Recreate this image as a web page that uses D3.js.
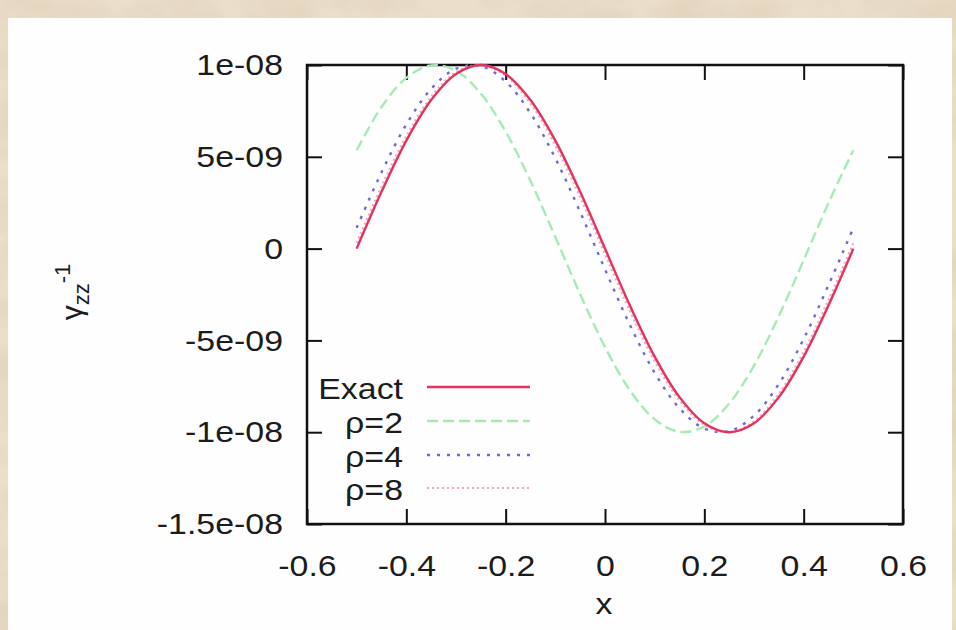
<!DOCTYPE html>
<html>
<head>
<meta charset="utf-8">
<script src="https://cdn.jsdelivr.net/npm/d3@7"></script>
<style>
    body { margin: 0; background: #e9dcc6; }
    svg { display: block; }
</style>
</head>
<body>
<div id="chart"></div>
<script>

// --- data --------------------------------------------------------------------
const xValues = [-0.5, -0.45, -0.4, -0.35, -0.3, -0.25, -0.2, -0.15, -0.1, -0.05, 0,
                 0.05, 0.1, 0.15, 0.2, 0.25, 0.3, 0.35, 0.4, 0.45, 0.5];

const exactValues = [0, 3.09e-9, 5.88e-9, 8.09e-9, 9.51e-9, 1.0e-8, 9.51e-9, 8.09e-9, 5.88e-9, 3.09e-9, 0,
                     -3.09e-9, -5.88e-9, -8.09e-9, -9.51e-9, -1.0e-8, -9.51e-9, -8.09e-9, -5.88e-9, -3.09e-9, 0];

const rho2Values = [5.36e-9, 7.71e-9, 9.30e-9, 9.98e-9, 9.69e-9, 8.44e-9, 6.37e-9, 3.68e-9, 0.63e-9, -2.49e-9, -5.36e-9,
                    -7.71e-9, -9.30e-9, -9.98e-9, -9.69e-9, -8.44e-9, -6.37e-9, -3.68e-9, -0.63e-9, 2.49e-9, 5.36e-9];

const rho4Values = [1.13e-9, 4.15e-9, 6.76e-9, 8.70e-9, 9.80e-9, 9.94e-9, 9.10e-9, 7.37e-9, 4.92e-9, 1.99e-9, -1.13e-9,
                    -4.15e-9, -6.76e-9, -8.70e-9, -9.80e-9, -9.94e-9, -9.10e-9, -7.37e-9, -4.92e-9, -1.99e-9, 1.13e-9];

const rho8Values = [0.31e-9, 3.39e-9, 6.13e-9, 8.27e-9, 9.60e-9, 1.0e-8, 9.41e-9, 7.90e-9, 5.62e-9, 2.79e-9, -0.31e-9,
                    -3.39e-9, -6.13e-9, -8.27e-9, -9.60e-9, -1.0e-8, -9.41e-9, -7.90e-9, -5.62e-9, -2.79e-9, 0.31e-9];

const seriesNames = ['Exact', 'ρ=2', 'ρ=4', 'ρ=8'];

const xTicks = [-0.6, -0.4, -0.2, 0, 0.2, 0.4, 0.6];
const xTickLabels = ['-0.6', '-0.4', '-0.2', '0', '0.2', '0.4', '0.6'];
const yTicks = [-1.5e-8, -1e-8, -5e-9, 0, 5e-9, 1e-8];
const yTickLabels = ['-1.5e-08', '-1e-08', '-5e-09', '0', '5e-09', '1e-08'];

// --- chart -------------------------------------------------------------------
const width = 956;
const height = 630;
const plot = {left: 307, right: 903, top: 65, bottom: 524};
const textStretch = 1.13;   // the picture is a bit wider than tall
const fontStack = '"Liberation Sans", Arial, Helvetica, sans-serif';

const mySVG = d3.select('#chart')
    .append('svg')
        .attr('width', width)
        .attr('height', height);

// parchment backdrop
const defs = mySVG.append('defs');
const paper = defs.append('filter')
    .attr('id', 'paper')
    .attr('x', 0).attr('y', 0).attr('width', '100%').attr('height', '100%');
paper.append('feTurbulence')
    .attr('type', 'fractalNoise')
    .attr('baseFrequency', '0.012 0.02')
    .attr('numOctaves', 4)
    .attr('seed', 7);
paper.append('feColorMatrix')
    .attr('type', 'matrix')
    .attr('values', '0 0 0 0 0.62  0 0 0 0 0.50  0 0 0 0 0.36  1.4 0 0 0 -0.55');

mySVG.append('rect')
    .attr('width', width).attr('height', height)
    .style('fill', '#ebdfca');
mySVG.append('rect')
    .attr('width', width).attr('height', height)
    .attr('filter', 'url(#paper)')
    .style('opacity', 0.55);

// white sheet
mySVG.append('rect')
    .attr('x', 8).attr('y', 18)
    .attr('width', width - 12).attr('height', height)
    .style('fill', '#fefefe');

const x = d3.scaleLinear()
    .domain([-0.6, 0.6])
    .range([plot.left, plot.right]);

const y = d3.scaleLinear()
    .domain([-1.5e-8, 1e-8])
    .range([plot.bottom, plot.top]);

// axes with inward ticks (gnuplot style)
function styleAxis(g) {
    g.select('.domain').remove();
    g.selectAll('.tick line')
        .style('stroke', '#111')
        .style('stroke-width', 2);
    g.selectAll('.tick text')
        .style('font-family', fontStack)
        .style('font-size', '30px')
        .style('fill', '#1c1c1c');
}

mySVG.append('g')
    .attr('transform', `translate(0,${plot.bottom})`)
    .call(d3.axisBottom(x)
        .tickValues(xTicks)
        .tickSize(-15)
        .tickPadding(31)
        .tickFormat((d, i) => xTickLabels[i]))
    .call(styleAxis)
    .call(g => g.selectAll('.tick text').attr('transform', `scale(${textStretch},1)`));

mySVG.append('g')
    .attr('transform', `translate(0,${plot.top})`)
    .call(d3.axisTop(x).tickValues(xTicks).tickSize(-15).tickFormat(''))
    .call(styleAxis);

mySVG.append('g')
    .attr('transform', `translate(${plot.left},0)`)
    .call(d3.axisLeft(y)
        .tickValues(yTicks)
        .tickSize(-15)
        .tickFormat((d, i) => yTickLabels[i]))
    .call(styleAxis)
    .call(g => g.selectAll('.tick text')
        .attr('x', -24 / textStretch)
        .attr('transform', `scale(${textStretch},1)`));

mySVG.append('g')
    .attr('transform', `translate(${plot.right},0)`)
    .call(d3.axisRight(y).tickValues(yTicks).tickSize(-15).tickFormat(''))
    .call(styleAxis);

// frame
mySVG.append('rect')
    .attr('x', plot.left).attr('y', plot.top)
    .attr('width', plot.right - plot.left)
    .attr('height', plot.bottom - plot.top)
    .style('fill', 'none')
    .style('stroke', '#111')
    .style('stroke-width', 2.5);

// --- curves ------------------------------------------------------------------
const series = [
    {name: seriesNames[0], values: exactValues, color: '#e2335f', dash: null,  w: 2.4},
    {name: seriesNames[1], values: rho2Values,  color: '#a8eab6', dash: '11,5', w: 2.4},
    {name: seriesNames[2], values: rho4Values,  color: '#6b6bd6', dash: '3,7',  w: 2.4},
    {name: seriesNames[3], values: rho8Values,  color: '#f3a6c0', dash: '2,3',  w: 2.2}
];

const line = d3.line()
    .x((d, i) => x(xValues[i]))
    .y(d => y(d))
    .curve(d3.curveCatmullRom);

// draw back to front so the exact solution stays on top
[1, 2, 3, 0].forEach(k => {
    const s = series[k];
    mySVG.append('path')
        .datum(s.values)
        .attr('d', line)
        .style('fill', 'none')
        .style('stroke', s.color)
        .style('stroke-width', s.w)
        .style('stroke-dasharray', s.dash);
});

// --- legend ------------------------------------------------------------------
const legendY = [387, 421, 455, 488];

const legend = mySVG.append('g');

series.forEach((s, i) => {
    legend.append('text')
        .attr('transform', `translate(403,${legendY[i] + 12}) scale(${textStretch},1)`)
        .attr('text-anchor', 'end')
        .style('font-family', fontStack)
        .style('font-size', '30px')
        .style('fill', '#1c1c1c')
        .text(s.name);
    legend.append('line')
        .attr('x1', 427).attr('x2', 530)
        .attr('y1', legendY[i]).attr('y2', legendY[i])
        .style('stroke', s.color)
        .style('stroke-width', s.w)
        .style('stroke-dasharray', s.dash);
});

// --- axis titles -------------------------------------------------------------
mySVG.append('text')
    .attr('transform', `translate(604,614) scale(${textStretch},1)`)
    .attr('text-anchor', 'middle')
    .style('font-family', fontStack)
    .style('font-size', '30px')
    .style('fill', '#1c1c1c')
    .text('x');

const yTitle = mySVG.append('text')
    .attr('transform', 'translate(82,292) rotate(-90)')
    .attr('text-anchor', 'middle')
    .style('font-family', fontStack)
    .style('fill', '#1c1c1c');
yTitle.append('tspan').style('font-size', '30px').text('γ');
yTitle.append('tspan').style('font-size', '22px').attr('dy', 7).text('zz');
yTitle.append('tspan').style('font-size', '22px').attr('dy', -19).text('-1');

</script>
</body>
</html>
